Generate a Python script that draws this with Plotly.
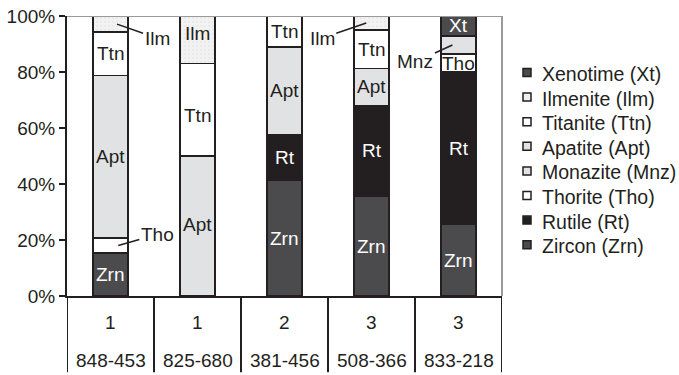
import plotly.graph_objects as go

# Samples (rock group, sample id)
groups = ["1", "1", "2", "3", "3"]
samples = ["848-453", "825-680", "381-456", "508-366", "833-218"]

# Mineral proportions (%) per sample, listed from the bottom of each stack upward
zircon   = [15.4, None, 41.2, 35.7, 25.7]
rutile   = [None, None, 16.5, 32.3, 54.3]
thorite  = [5.3,  None, None, None, 6.4]
monazite = [None, None, None, None, 6.5]
apatite  = [58.0, 50.0, 31.3, 13.3, None]
titanite = [15.5, 33.0, 11.0, 13.7, None]
ilmenite = [5.8,  17.0, None, 5.0,  None]
xenotime = [None, None, None, None, 7.1]

minerals = [
    ("Zircon (Zrn)", "Zrn", zircon),
    ("Rutile (Rt)", "Rt", rutile),
    ("Thorite (Tho)", "Tho", thorite),
    ("Monazite (Mnz)", "Mnz", monazite),
    ("Apatite (Apt)", "Apt", apatite),
    ("Titanite (Ttn)", "Ttn", titanite),
    ("Ilmenite (Ilm)", "Ilm", ilmenite),
    ("Xenotime (Xt)", "Xt", xenotime),
]

INK = "#231f20"
FONT = "Liberation Sans, Arial, Helvetica, sans-serif"
fills = {
    "Zrn": "#4b4b4d", "Rt": "#231f20", "Tho": "#ffffff", "Mnz": "#e1e2e4",
    "Apt": "#e1e2e4", "Ttn": "#ffffff", "Ilm": "#efefef", "Xt": "#4b4b4d",
}
light_text = {"Zrn", "Rt", "Xt"}

# Thin segments labelled with a leader line: (sample index, abbr) -> (dx, ax, ay)
callouts = {
    (0, "Ilm"): (0.075, 40, 14),
    (0, "Tho"): (0.09, 39, -11),
    (3, "Ilm"): (-0.06, -44, 15),
    (4, "Mnz"): (-0.07, -37, 17),
}
# Small vertical nudges (px) for a few in-bar labels
nudges = {(1, "Ilm"): 6, (1, "Ttn"): -6, (1, "Apt"): 2}

fig = go.Figure()
base = [0.0] * len(samples)
annotations = []

for name, abbr, vals in minerals:
    pattern = None
    if abbr == "Ilm":
        pattern = dict(shape=".", fgcolor="#dcdcdc", bgcolor="#f2f2f2", size=4, solidity=0.2)
    fig.add_trace(go.Bar(
        x=samples, y=vals, name=name, showlegend=False,
        width=0.4,
        marker=dict(color=fills[abbr], line=dict(color=INK, width=1.5), pattern=pattern),
        hoverinfo="skip",
    ))
    for i, v in enumerate(vals):
        if v is None:
            continue
        mid = base[i] + v / 2
        key = (i, abbr)
        if key in callouts:
            dx, ax, ay = callouts[key]
            annotations.append(dict(
                x=i + dx, y=mid, xref="x", yref="y", text=abbr,
                showarrow=True, arrowhead=0, arrowwidth=1.5, arrowcolor=INK,
                ax=ax, ay=ay, standoff=0,
                font=dict(family=FONT, size=19, color=INK),
            ))
        else:
            annotations.append(dict(
                x=i, y=mid, xref="x", yref="y", text=abbr, showarrow=False,
                yshift=nudges.get(key, 0),
                font=dict(family=FONT, size=19,
                          color="#ffffff" if abbr in light_text else INK),
            ))
        base[i] += v

shapes = []

# Legend: small outlined squares with names, Xenotime at the top
PLOT_L, PLOT_W, PLOT_B, PLOT_H = 67, 435, 296, 280
for k, (name, abbr, vals) in enumerate(reversed(minerals)):
    cy = 74 + 24.6 * k
    yp = (PLOT_B - cy) / PLOT_H
    shapes.append(dict(type="rect", xref="paper", yref="paper",
                       xsizemode="pixel", ysizemode="pixel",
                       xanchor=(527 - PLOT_L) / PLOT_W, yanchor=yp + 1.5 / PLOT_H,
                       x0=-4, x1=4, y0=-4, y1=4,
                       fillcolor=fills[abbr], line=dict(color=INK, width=1.5)))
    annotations.append(dict(x=(540 - PLOT_L) / PLOT_W, y=yp, xref="paper", yref="paper",
                            xanchor="left", yanchor="middle", text=name, showarrow=False,
                            font=dict(family=FONT, size=19.5, color=INK)))

# Two-row sample table under the axis
for i, (g, s) in enumerate(zip(groups, samples)):
    annotations.append(dict(x=i, y=-0.093, xref="x", yref="paper", text=g,
                            yanchor="middle", showarrow=False,
                            font=dict(family=FONT, size=19, color=INK)))
    annotations.append(dict(x=i, y=-0.229, xref="x", yref="paper", text=s,
                            yanchor="middle", showarrow=False,
                            font=dict(family=FONT, size=19, color=INK)))

for k in range(len(samples) + 1):
    shapes.append(dict(type="line", xref="x", yref="paper", x0=k - 0.5, x1=k - 0.5,
                       y0=0, y1=-0.272, line=dict(color=INK, width=2)))
shapes.append(dict(type="line", xref="paper", yref="y", x0=0, x1=1, y0=100, y1=100,
                   line=dict(color="#9a9a9a", width=2)))
shapes.append(dict(type="line", xref="paper", yref="y", x0=1, x1=1, y0=0, y1=100,
                   line=dict(color="#9a9a9a", width=2)))

fig.update_layout(
    width=679, height=375,
    margin=dict(l=67, r=177, t=16, b=79, autoexpand=False),
    barmode="stack",
    showlegend=False,
    plot_bgcolor="white", paper_bgcolor="white",
    font=dict(family=FONT, size=18, color=INK),
    annotations=annotations,
    shapes=shapes,
    xaxis=dict(type="category", range=[-0.5, 4.5], showticklabels=False,
               showline=True, linecolor=INK, linewidth=2, ticks="",
               showgrid=False, zeroline=False, automargin=False),
    yaxis=dict(range=[0, 100], dtick=20, ticksuffix="%", showline=True,
               linecolor=INK, linewidth=2, ticks="outside", ticklen=6,
               tickwidth=1.5, tickcolor=INK, showgrid=False, zeroline=False,
               automargin=False,
               tickfont=dict(family=FONT, size=19, color=INK)),
)

fig.write_html("out.html")
